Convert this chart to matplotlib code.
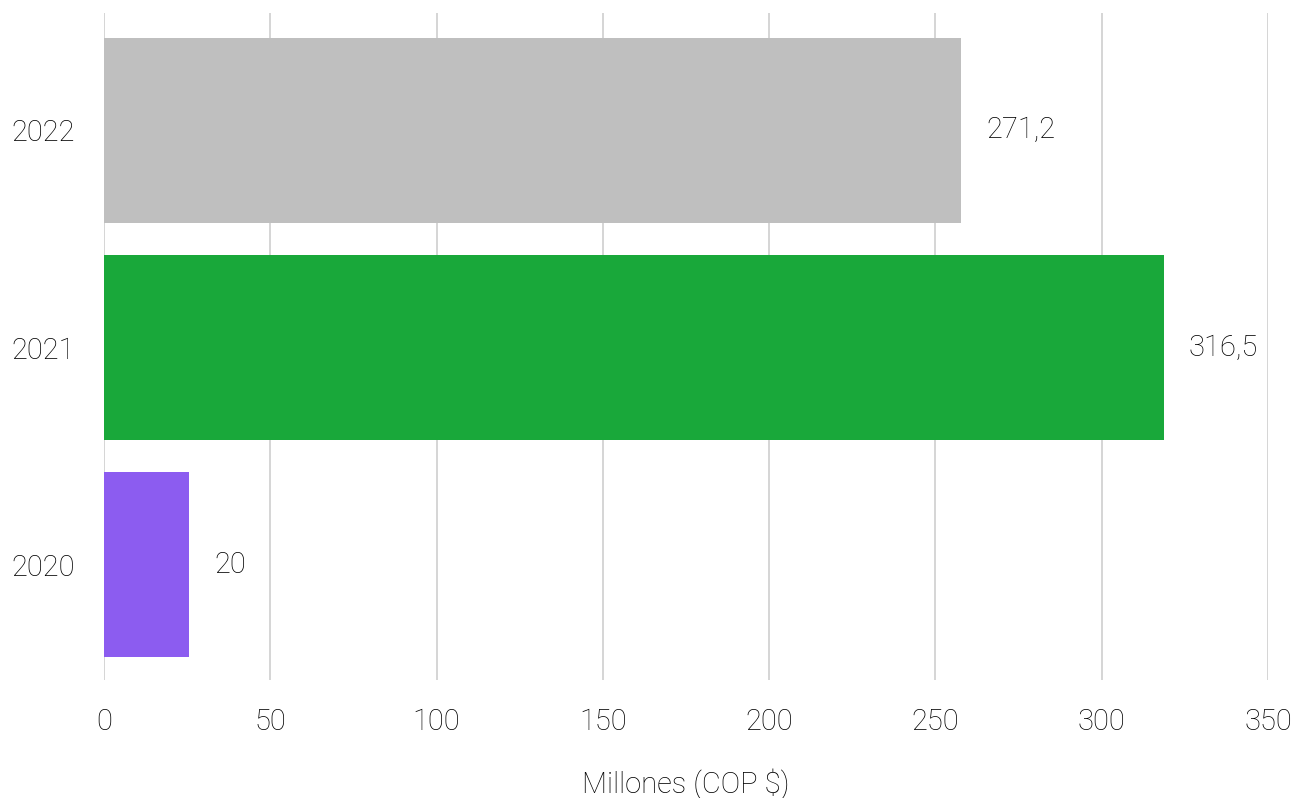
import matplotlib.pyplot as plt

years = ['2020', '2021', '2022']
bar_values = [25.6, 318.7, 257.7]   # bar lengths as drawn
bar_labels = ['20', '316,5', '271,2']  # printed values
colors = ['#8c5cf0', '#19a83a', '#bfbfbf']
xticks = [0, 50, 100, 150, 200, 250, 300, 350]

plt.rcParams['font.family'] = ['Roboto', 'DejaVu Sans']
plt.rcParams['font.weight'] = 'light'
txt = '#000000'

fig = plt.figure(figsize=(12.98, 7.98), dpi=100)
ax = fig.add_axes([0.0801, 0.1479, 0.8968, 0.8358])

ax.barh(range(len(years)), bar_values, height=0.85, color=colors, zorder=2)

for i, lab in enumerate(bar_labels):
    ax.annotate(lab, (bar_values[i], i), xytext=(18, 0), textcoords='offset points',
                va='center', ha='left', fontsize=21, color=txt, fontweight='light')

ax.set_xlim(0, 350)
ax.set_ylim(-0.53, 2.54)
ax.set_xticks(xticks)
ax.set_yticks(range(len(years)))
ax.set_yticklabels(years)
ax.tick_params(axis='both', length=0, labelsize=21, labelcolor=txt)
ax.tick_params(axis='x', pad=20)
ax.tick_params(axis='y', pad=21)
ax.grid(axis='x', color='#d2d2d2', linewidth=1.3)
ax.set_axisbelow(True)
for s in ax.spines.values():
    s.set_visible(False)

ax.set_xlabel('Millones (COP $)', fontsize=21, color=txt, labelpad=24, fontweight='light')

fig.savefig('out.png', dpi=100)
